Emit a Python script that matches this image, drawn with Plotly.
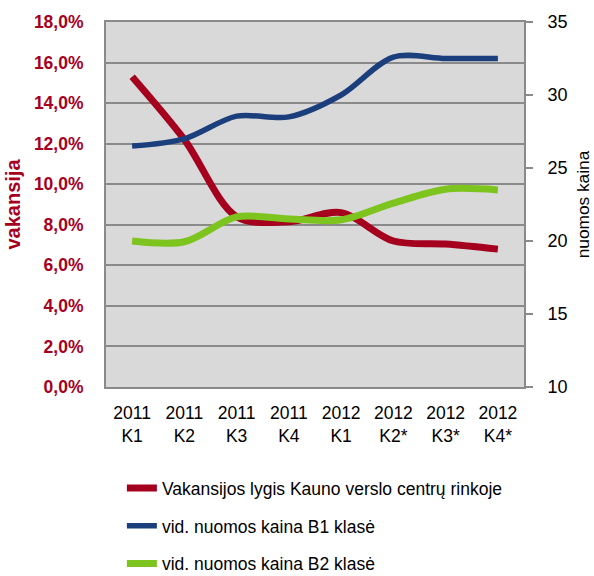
import plotly.graph_objects as go

categories = ["2011<br>K1", "2011<br>K2", "2011<br>K3", "2011<br>K4",
              "2012<br>K1", "2012<br>K2*", "2012<br>K3*", "2012<br>K4*"]
vacancy = [15.3, 12.2, 8.4, 8.15, 8.6, 7.2, 7.05, 6.8]
rent_b1 = [26.5, 27.0, 28.55, 28.5, 30.0, 32.6, 32.5, 32.5]
rent_b2 = [20.0, 19.95, 21.65, 21.5, 21.45, 22.6, 23.55, 23.5]

names = ["Vakansijos lygis Kauno verslo centrų rinkoje",
         "vid. nuomos kaina B1 klasė",
         "vid. nuomos kaina B2 klasė"]

RED = "#a6001f"
BLUE = "#1b3f7c"
GREEN = "#7dc41f"
GRID = "#8a8a8a"
FONT = "Liberation Sans, Arial, sans-serif"

fig = go.Figure()
fig.add_trace(go.Scatter(x=categories, y=vacancy, name=names[0], mode="lines",
                         line=dict(color=RED, width=7, shape="spline", smoothing=0.9),
                         legendgroup="a", yaxis="y"))
fig.add_trace(go.Scatter(x=categories, y=rent_b1, name=names[1], mode="lines",
                         line=dict(color=BLUE, width=5.5, shape="spline", smoothing=0.9),
                         legendgroup="b", yaxis="y2"))
fig.add_trace(go.Scatter(x=categories, y=rent_b2, name=names[2], mode="lines",
                         line=dict(color=GREEN, width=7, shape="spline", smoothing=0.9),
                         legendgroup="c", yaxis="y2"))

fig.update_layout(
    width=594, height=576,
    margin=dict(l=106, r=70, t=22, b=189, autoexpand=False),
    paper_bgcolor="white",
    plot_bgcolor="#d9d9d9",
    separators=", ",
    font=dict(family=FONT, size=17.5, color="black"),
    showlegend=True,
    legend=dict(x=0.038, xanchor="left", y=-0.228, yanchor="top",
                orientation="v", tracegroupgap=12,
                font=dict(family=FONT, size=17.5, color="black"),
                bgcolor="rgba(0,0,0,0)"),
    xaxis=dict(
        type="category", range=[-0.5, 7.5], automargin=False,
        showline=True, linecolor=GRID, linewidth=2, mirror=True,
        showgrid=False, ticks="", ticklabelstandoff=9,
        tickfont=dict(family=FONT, size=17.5, color="black"),
    ),
    yaxis=dict(
        range=[0, 18], dtick=2, tickformat=".1f", ticksuffix="%",
        automargin=False,
        showline=True, linecolor=GRID, linewidth=2,
        showgrid=True, gridcolor=GRID, gridwidth=2,
        zeroline=False, ticks="", ticklabelstandoff=17,
        tickfont=dict(family=FONT, size=17.5, color=RED, weight="bold"),
        title=dict(text="vakansija", standoff=8,
                   font=dict(family=FONT, size=20, color=RED, weight="bold")),
    ),
    yaxis2=dict(
        range=[10, 35], dtick=5, overlaying="y", side="right",
        automargin=False,
        showline=True, linecolor=GRID, linewidth=2,
        showgrid=False, zeroline=False,
        ticks="outside", ticklen=7, tickcolor=GRID, tickwidth=2,
        ticklabelstandoff=11,
        tickfont=dict(family=FONT, size=18, color="black"),
        title=dict(text="nuomos kaina", standoff=10,
                   font=dict(family=FONT, size=17.3, color="black")),
    ),
)

fig.write_html("out.html", config={"displayModeBar": False},
               post_script="document.body.style.margin='0';document.body.style.overflow='hidden';")
